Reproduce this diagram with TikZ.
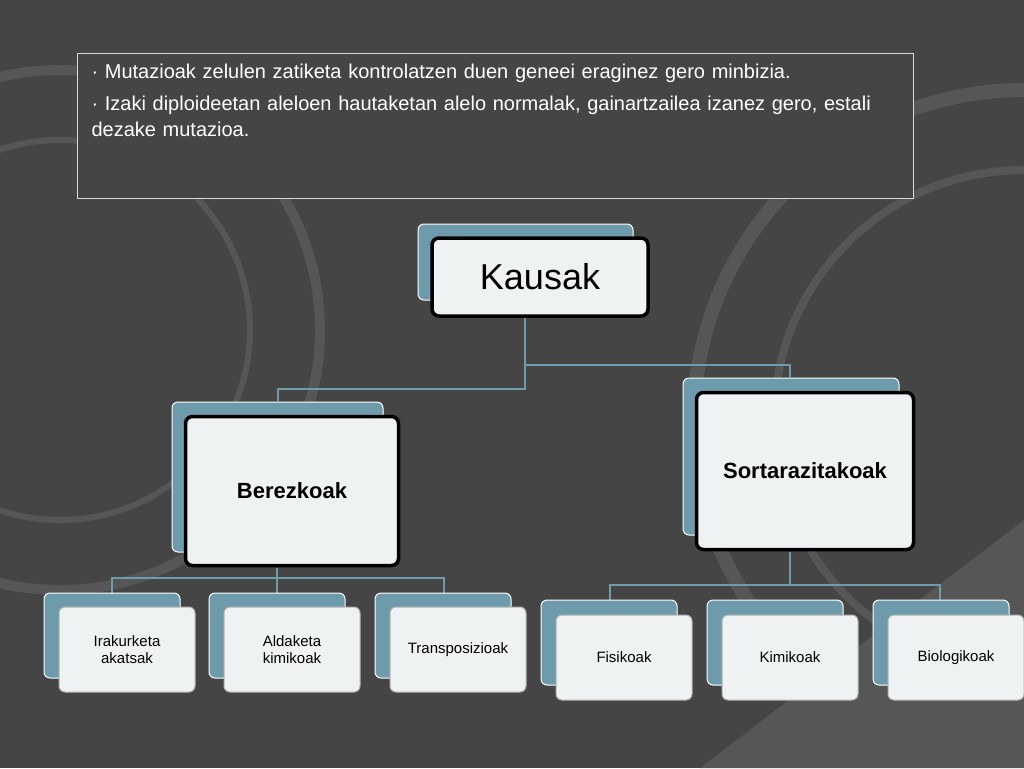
\documentclass[tikz,border=0pt]{standalone}
\usepackage{fontspec}
\setmainfont{Liberation Sans}
\begin{document}
\begin{tikzpicture}[x=1pt,y=-1pt,
  conn/.style={draw=linec,line width=1.5pt},
  backbox/.style={draw=white,line width=1pt,fill=backc,rounded corners=6pt},
  frontbig/.style={draw=black,line width=3.5pt,fill=frontc,rounded corners=7pt},
  frontsmall/.style={draw=gray!60,line width=1pt,fill=frontc,rounded corners=6pt},
  lbl/.style={font=\fontsize{15}{17}\selectfont,align=center,text=black}]
\definecolor{bg}{HTML}{454545}
\definecolor{swirl}{HTML}{565656}
\definecolor{linec}{HTML}{6E9CA8}
\definecolor{backc}{HTML}{6E9BAC}
\definecolor{frontc}{HTML}{EEF2F3}
\fill[bg] (0,0) rectangle (1024,768);
\useasboundingbox (0,0) rectangle (1024,768);
\begin{scope}
\clip (0,0) rectangle (1024,768);
\draw[swirl,line width=14pt] (1024,420) circle (330);
\draw[swirl,line width=8pt] (1024,420) circle (250);
\draw[swirl,line width=10pt] (60,330) circle (260);
\draw[swirl,line width=6pt] (60,330) circle (190);
\fill[swirl] (700,768) -- (1024,520) -- (1024,768) -- cycle;
\end{scope}
\node[draw=white!85!black,line width=1pt,fill=bg,minimum width=836pt,minimum height=145pt,anchor=north west] (txt) at (77,53) {};
\node[anchor=north west,text=white,text width=800pt,font=\fontsize{20}{26}\selectfont] (t) at (88,60)
 {\hangindent=44pt\hangafter=1 · Mutazioak zelulen zatiketa kontrolatzen duen geneei eraginez gero minbizia.\par
  \vspace{6pt}\hangindent=44pt\hangafter=1 · Izaki diploideetan aleloen hautaketan alelo normalak, gainartzailea izanez gero, estali dezake mutazioa.};
% Kausak
\draw[backbox] (418,224) rectangle (633,300);
\node[frontbig,minimum width=216pt,minimum height=78pt,font=\fontsize{36}{40}\selectfont] (k) at (540,277) {Kausak};
% Berezkoak
\draw[backbox] (172,402) rectangle (383,552);
\node[frontbig,minimum width=213pt,minimum height=149pt,font=\bfseries\fontsize{22}{26}\selectfont] (b) at (292,491) {Berezkoak};
% Sortarazitakoak
\draw[backbox] (683,378) rectangle (899,535);
\node[frontbig,minimum width=217pt,minimum height=157pt,font=\bfseries\fontsize{22}{26}\selectfont] (s) at (805,471) {Sortarazitakoak};
\coordinate (kb) at (525,316);
\draw[conn] (525,318) |- (278,389) -- (278,402);
\draw[conn] (525,365) -| (790,378);
% left children
\draw[conn] (277,568) -- (277,578);
\draw[conn] (112,593) |- (444,578) -- (444,593);
\draw[conn] (277,578) -- (277,593);
\foreach \x/\t/\n in {44/{Irakurketa\\akatsak}/c1,209/{Aldaketa\\kimikoak}/c2,375/{Transposizioak}/c3}{
  \draw[backbox] (\x,593) rectangle (\x+136,678);
  \node[frontsmall,minimum width=136pt,minimum height=85pt,lbl] (\n) at (\x+83,649.5) {\t};
}
% right children
\draw[conn] (790,552) -- (790,585);
\draw[conn] (610,600) |- (940,585) -- (940,600);
\foreach \x/\t/\n in {541/{Fisikoak}/d1,707/{Kimikoak}/d2,873/{Biologikoak}/d3}{
  \draw[backbox] (\x,600) rectangle (\x+136,685);
  \node[frontsmall,minimum width=136pt,minimum height=85pt,lbl] (\n) at (\x+83,657.5) {\t};
}
\end{tikzpicture}
\end{document}
